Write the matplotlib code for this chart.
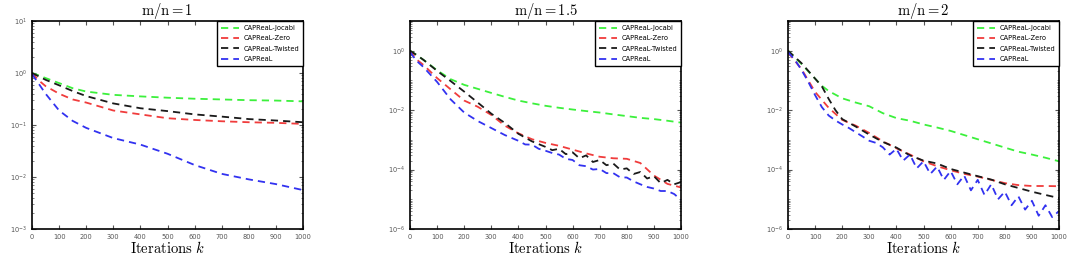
import numpy as np
import matplotlib
matplotlib.use('Agg')
import matplotlib.pyplot as plt
from matplotlib.ticker import LogLocator, NullFormatter, FixedLocator

plt.rcParams['mathtext.fontset'] = 'cm'

# nomes das curvas (legenda)
nomes = ['CAPReaL-Jocabi', 'CAPReaL-Zero', 'CAPReaL-Twisted', 'CAPReaL']
cores = ['#3cf03c', '#f03c3c', '#1a1a1a', '#3232f0']
titulos = ['m/n=1', 'm/n=1.5', 'm/n=2']

# ---- m/n = 1 ----
k1 = [0, 25, 50, 100, 150, 200, 300, 400, 500, 600, 700, 800, 900, 1000]
jac1 = [1.0, 0.9, 0.8, 0.64, 0.51, 0.44, 0.38, 0.355, 0.335, 0.32, 0.31, 0.30, 0.295, 0.285]
zer1 = [1.0, 0.72, 0.56, 0.40, 0.31, 0.27, 0.19, 0.16, 0.135, 0.125, 0.118, 0.113, 0.11, 0.105]
twi1 = [1.0, 0.86, 0.74, 0.58, 0.45, 0.36, 0.26, 0.21, 0.185, 0.16, 0.145, 0.13, 0.122, 0.113]
cap1 = [0.95, 0.62, 0.4, 0.19, 0.12, 0.088, 0.056, 0.042, 0.028, 0.017, 0.0115, 0.009, 0.0073, 0.0056]

# ---- m/n = 1.5 ----
k2 = [0, 25, 50, 100, 150, 200, 250, 300, 350, 400, 450, 500, 550, 600, 650, 700, 750, 800, 850, 900, 950, 1000]
jac2 = [1.0, 0.71, 0.49, 0.22, 0.11, 0.071, 0.052, 0.038, 0.028, 0.021, 0.017, 0.014, 0.012, 0.0105,
        0.0093, 0.0083, 0.0072, 0.0063, 0.0055, 0.005, 0.0044, 0.0038]
zer2 = [1.0, 0.5, 0.33, 0.12, 0.05, 0.021, 0.013, 0.0069, 0.003, 0.00166, 0.00105, 7.9e-4, 6.3e-4, 4.7e-4,
        3.5e-4, 2.7e-4, 2.4e-4, 2.3e-4, 1.66e-4, 6.3e-5, 3.3e-5, 2.5e-5]
k2t = [0, 25, 50, 100, 150, 200, 250, 300, 350, 400, 450, 500, 525, 550, 575, 600, 625, 650, 675, 700,
       725, 750, 775, 800, 825, 850, 875, 900, 925, 950, 975, 1000]
twi2 = [1.0, 0.71, 0.49, 0.21, 0.095, 0.042, 0.018, 0.0076, 0.0037, 0.0016, 8.9e-4, 5.8e-4, 4.5e-4, 5.0e-4,
        3.3e-4, 3.8e-4, 2.4e-4, 3.0e-4, 1.8e-4, 2.1e-4, 1.4e-4, 1.6e-4, 1.0e-4, 1.1e-4, 7.1e-5, 8.3e-5,
        5.0e-5, 6.0e-5, 3.5e-5, 4.5e-5, 3.2e-5, 3.8e-5]
k2c = [0, 25, 50, 100, 150, 200, 250, 300, 350, 400, 425, 450, 475, 500, 525, 550, 575, 600, 625, 650,
       675, 700, 725, 750, 775, 800, 825, 850, 875, 900, 925, 950, 975, 1000]
cap2 = [0.89, 0.45, 0.28, 0.089, 0.023, 0.0083, 0.0043, 0.0025, 0.00145, 9.3e-4, 7.0e-4, 6.9e-4, 5.0e-4,
        4.3e-4, 3.6e-4, 3.2e-4, 2.3e-4, 2.1e-4, 1.4e-4, 1.3e-4, 1.0e-4, 1.05e-4, 7.6e-5, 7.6e-5, 5.5e-5,
        5.4e-5, 4.0e-5, 3.2e-5, 2.6e-5, 2.3e-5, 1.9e-5, 1.9e-5, 1.5e-5, 9.5e-6]

# ---- m/n = 2 ----
k3 = [0, 50, 100, 125, 150, 200, 250, 300, 350, 400, 450, 500, 550, 600, 650, 700, 750, 800, 850, 900, 950, 1000]
jac3 = [1.0, 0.355, 0.115, 0.066, 0.044, 0.025, 0.018, 0.0135, 0.0079, 0.0054, 0.0044, 0.0033, 0.0026,
        0.002, 0.00145, 0.00105, 7.6e-4, 5.5e-4, 4.0e-4, 3.2e-4, 2.5e-4, 1.9e-4]
k3t = [0, 50, 100, 125, 150, 175, 200, 250, 300, 350, 400, 450, 500, 550, 600, 650, 700, 750, 800, 850, 900, 950, 1000]
twi3 = [1.0, 0.38, 0.115, 0.063, 0.024, 0.01, 0.005, 0.0028, 0.0015, 8.5e-4, 5.5e-4, 3.0e-4, 2.0e-4,
        1.6e-4, 1.05e-4, 7.9e-5, 6.0e-5, 4.6e-5, 3.2e-5, 2.4e-5, 1.8e-5, 1.4e-5, 1.1e-5]
k3z = [0, 50, 100, 150, 200, 250, 300, 350, 400, 450, 500, 550, 600, 650, 700, 750, 800, 850, 900, 950, 1000]
zer3 = [0.89, 0.24, 0.041, 0.012, 0.0047, 0.003, 0.0017, 8.9e-4, 5.2e-4, 3.2e-4, 1.9e-4, 1.3e-4, 9.5e-5,
        7.2e-5, 5.8e-5, 4.5e-5, 3.5e-5, 3.0e-5, 2.8e-5, 2.8e-5, 2.75e-5]
k3c = [0, 25, 50, 75, 100, 125, 150, 175, 200, 225, 250, 275, 300, 325, 350, 375, 400, 425, 450, 475,
       500, 525, 550, 575, 600, 625, 650, 675, 700, 725, 750, 775, 800, 825, 850, 875, 900, 925, 950, 975, 1000]
cap3 = [0.89, 0.5, 0.224, 0.089, 0.032, 0.0126, 0.0066, 0.0045, 0.0033, 0.0025, 0.0018, 0.0013, 9.3e-4,
        7.9e-4, 5.6e-4, 3.2e-4, 5.0e-4, 2.0e-4, 3.2e-4, 1.1e-4, 1.9e-4, 7.1e-5, 1.26e-4, 4.5e-5, 8.9e-5,
        3.2e-5, 6.3e-5, 2.0e-5, 4.5e-5, 1.4e-5, 3.2e-5, 1.0e-5, 1.8e-5, 6.3e-6, 1.26e-5, 4.5e-6, 8.9e-6,
        2.8e-6, 6.3e-6, 2.5e-6, 4.0e-6]

paineis = [
    [(k1, jac1), (k1, zer1), (k1, twi1), (k1, cap1)],
    [(k2, jac2), (k2, zer2), (k2t, twi2), (k2c, cap2)],
    [(k3, jac3), (k3z, zer3), (k3t, twi3), (k3c, cap3)],
]
ylims = [(1e-3, 1e1), (1e-6, 1e1), (1e-6, 1e1)]
ymajor = [[1e-3, 1e-2, 1e-1, 1e0, 1e1], [1e-6, 1e-4, 1e-2, 1e0], [1e-6, 1e-4, 1e-2, 1e0]]
lefts = [32, 410, 788]

fig = plt.figure(figsize=(10.75, 2.6), dpi=100)

for i in range(3):
    ax = fig.add_axes([lefts[i] / 1075, 1 - 229 / 260, 271 / 1075, 208 / 260])
    for (kk, vv), c, nome in zip(paineis[i], cores, nomes):
        ax.semilogy(kk, vv, '--', color=c, lw=1.3, label=nome, dashes=(4, 2.8))
    ax.set_xlim(0, 1000)
    ax.set_ylim(*ylims[i])
    ax.set_xticks(np.arange(0, 1001, 100))
    ax.yaxis.set_major_locator(FixedLocator(ymajor[i]))
    ax.yaxis.set_minor_locator(LogLocator(base=10, subs=np.arange(1, 10), numticks=30))
    ax.yaxis.set_minor_formatter(NullFormatter())
    ax.tick_params(which='both', direction='in', top=True, right=True, labelsize=4.8, colors='#555555')
    ax.tick_params(which='major', length=3, width=0.8)
    ax.tick_params(which='minor', length=1.5, width=0.5)
    for s in ax.spines.values():
        s.set_linewidth(1.2)
    ax.set_title(r'$\mathrm{' + titulos[i] + '}$', fontsize=10.5, pad=3)
    ax.set_xlabel(r'$\mathrm{Iterations}\ k$', fontsize=10.5, labelpad=0)
    leg = ax.legend(loc='upper right', fontsize=4.8, frameon=True, fancybox=False,
                    edgecolor='black', framealpha=1, borderaxespad=0, handlelength=2.8,
                    labelspacing=0.65, borderpad=0.6, handletextpad=0.6)
    leg.get_frame().set_linewidth(1.0)

plt.savefig('out.png', dpi=100)
